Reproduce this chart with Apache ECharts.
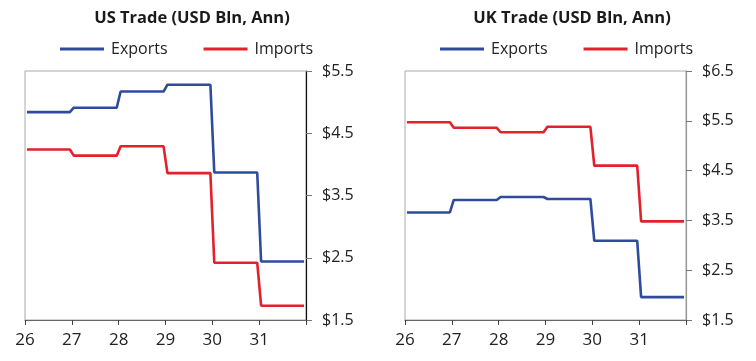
<!DOCTYPE html>
<html><head><meta charset="utf-8">
<script src="https://cdn.jsdelivr.net/npm/echarts@6/dist/echarts.min.js"></script>
<style>html,body{margin:0;padding:0;background:#fff}#c{width:756px;height:361px}</style>
</head><body><div id="c"></div>
<script>
// Annual levels (each held flat across the 12 months of the year)
var years = [26, 27, 28, 29, 30, 31];
var usExports = [4.84, 4.91, 5.17, 5.28, 3.87, 2.44];
var usImports = [4.24, 4.14, 4.29, 3.86, 2.42, 1.73];
var ukExports = [3.66, 3.91, 3.97, 3.93, 3.09, 1.96];
var ukImports = [5.47, 5.36, 5.27, 5.38, 4.60, 3.48];
var xTicks = [26, 27, 28, 29, 30, 31];
var usYTicks = [1.5, 2.5, 3.5, 4.5, 5.5];
var ukYTicks = [1.5, 2.5, 3.5, 4.5, 5.5, 6.5];

function monthly(vals) {
  var out = [];
  years.forEach(function (y, i) {
    for (var m = 0; m < 12; m++) out.push([y + (m + 0.5) / 12, vals[i]]);
  });
  return out;
}
var FONT = 'Open Sans';
var BLUE = '#2e4b9d', RED = '#e3202b';

function xAxis(gi) {
  return {
    type: 'value', gridIndex: gi, min: 26, max: 32, interval: 1,
    axisLine: { show: true, lineStyle: { color: '#666', width: 1 } },
    axisTick: { show: true, length: 5, lineStyle: { color: '#444' } },
    axisLabel: { fontFamily: FONT, fontSize: 17, color: '#222', margin: 12,
      formatter: function (v) { return xTicks.indexOf(v) >= 0 ? String(v) : ''; } },
    splitLine: { show: false }
  };
}
function yAxis(gi, min, max, ticks, lineColor) {
  return {
    type: 'value', gridIndex: gi, position: 'right', min: min, max: max,
    axisLine: { show: true, lineStyle: { color: lineColor, width: 1.2 } },
    axisTick: { show: true, length: 6, customValues: ticks, lineStyle: { color: '#777' } },
    axisLabel: { customValues: ticks, fontFamily: FONT, fontSize: 16, color: '#222', margin: 16,
      formatter: function (v) { return '$' + v.toFixed(1); } },
    splitLine: { show: false }
  };
}
function line(name, data, color, xi) {
  return { name: name, type: 'line', xAxisIndex: xi, yAxisIndex: xi, data: data,
    symbol: 'none', lineStyle: { color: color, width: 2.6 }, itemStyle: { color: color },
    animation: false };
}
var legendCommon = { icon: 'rect', itemWidth: 44, itemHeight: 3, itemGap: 36, padding: 0,
  textStyle: { fontFamily: FONT, fontSize: 16, color: '#222', padding: [0, 0, 0, 2] },
  data: ['Exports', 'Imports'], selectedMode: false };

var chart = echarts.init(document.getElementById('c'), null, { renderer: 'canvas' });
chart.setOption({
  backgroundColor: '#fff',
  animation: false,
  title: [
    { text: 'US Trade (USD Bln, Ann)', left: 187, top: 5, textAlign: 'center',
      textStyle: { fontFamily: FONT, fontSize: 16.5, fontWeight: 'bold', color: '#1a1a1a' } },
    { text: 'UK Trade (USD Bln, Ann)', left: 567, top: 5, textAlign: 'center',
      textStyle: { fontFamily: FONT, fontSize: 16.5, fontWeight: 'bold', color: '#1a1a1a' } }
  ],
  legend: [
    Object.assign({ left: 60, top: 41 }, legendCommon),
    Object.assign({ left: 440, top: 41 }, legendCommon)
  ],
  grid: [
    { left: 25, right: 450, top: 71, bottom: 41, show: true, borderColor: '#aaa', borderWidth: 1 },
    { left: 405, right: 70, top: 71, bottom: 41, show: true, borderColor: '#aaa', borderWidth: 1 }
  ],
  xAxis: [xAxis(0), xAxis(1)],
  yAxis: [yAxis(0, 1.5, 5.5, usYTicks, '#111'), yAxis(1, 1.5, 6.5, ukYTicks, '#999')],
  series: [
    line('Exports', monthly(usExports), BLUE, 0),
    line('Imports', monthly(usImports), RED, 0),
    line('Exports', monthly(ukExports), BLUE, 1),
    line('Imports', monthly(ukImports), RED, 1)
  ]
});
</script></body></html>
